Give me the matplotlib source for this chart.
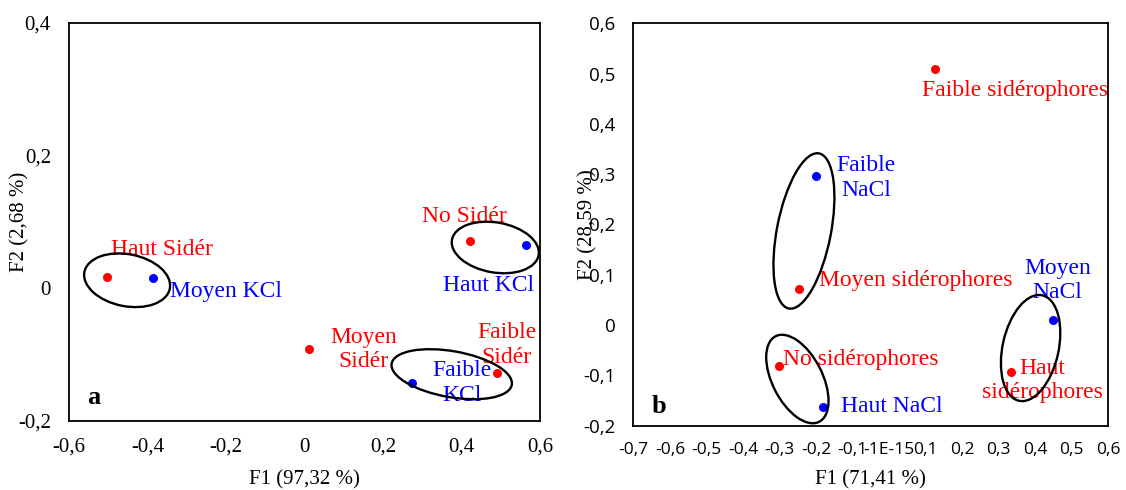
import matplotlib
matplotlib.use("Agg")
import matplotlib.pyplot as plt
from matplotlib.patches import Ellipse
from matplotlib.transforms import ScaledTranslation

# ---------------- data : panel a (KCl) ----------------
a_labels = ["Haut Sidér", "Moyen KCl", "No Sidér", "Haut KCl",
            "Moyen\nSidér", "Faible\nKCl", "Faible\nSidér"]
a_f1 = [-0.502, -0.385, 0.422, 0.564, 0.012, 0.273, 0.490]
a_f2 = [0.0165, 0.015, 0.0716, 0.065, -0.092, -0.143, -0.128]
a_group = ["sid", "salt", "sid", "salt", "sid", "salt", "sid"]
a_xticks = [-0.6, -0.4, -0.2, 0.0, 0.2, 0.4, 0.6]
a_xticklabels = ["-0,6", "-0,4", "-0,2", "0", "0,2", "0,4", "0,6"]
a_yticks = [-0.2, 0.0, 0.2, 0.4]
a_yticklabels = ["-0,2", "0", "0,2", "0,4"]
a_xlabel = "F1 (97,32 %)"
a_ylabel = "F2 (2,68 %)"

# ---------------- data : panel b (NaCl) ----------------
b_labels = ["Faible sidérophores", "Faible\nNaCl", "Moyen sidérophores",
            "Moyen\nNaCl", "No sidérophores", "Haut NaCl", "Haut\nsidérophores"]
b_f1 = [0.125, -0.199, -0.246, 0.450, -0.300, -0.180, 0.333]
b_f2 = [0.509, 0.296, 0.072, 0.009, -0.081, -0.163, -0.093]
b_group = ["sid", "salt", "sid", "salt", "sid", "salt", "sid"]
b_xticks = [-0.7, -0.6, -0.5, -0.4, -0.3, -0.2, -0.1, 0.0, 0.1, 0.2, 0.3, 0.4, 0.5, 0.6]
b_xticklabels = ["-0,7", "-0,6", "-0,5", "-0,4", "-0,3", "-0,2", "-0,1", "-1E-15",
                 "0,1", "0,2", "0,3", "0,4", "0,5", "0,6"]
b_yticks = [-0.2, -0.1, 0.0, 0.1, 0.2, 0.3, 0.4, 0.5, 0.6]
b_yticklabels = ["-0,2", "-0,1", "0", "0,1", "0,2", "0,3", "0,4", "0,5", "0,6"]
b_xlabel = "F1 (71,41 %)"
b_ylabel = "F2 (28,59 %)"

# ---------------- layout / style ----------------
COLORS = {"sid": "#FF0000", "salt": "#0000FF"}
SERIF = "Liberation Serif"
SANS = "Open Sans"
DPI = 100

# label offsets in pixels (dx right, dy down) and alignment
a_offsets = [(54, -28, "center"), (73, 13, "center"), (-6, -24, "center"), (-37, 40, "center"),
             (54, 0, "center"), (50, 0, "center"), (10, -28, "center")]
b_offsets = [(80, 21, "center"), (50, 2, "center"), (20, -8, "left"), (4, -40, "center"),
             (4, -6, "left"), (18, 0, "left"), (32, 9, "center")]

# grouping ellipses: centre (data), width/height in px, angle deg
a_ellipses = [(-0.452, 0.012, 87, 52, -11), (0.486, 0.0614, 88, 50, -10),
              (0.375, -0.1295, 122, 46, -10)]
b_ellipses = [(-0.233, 0.187, 158, 54, 79), (-0.251, -0.1075, 96, 50, 117),
              (0.388, -0.0459, 108, 56, 77.6)]

fig = plt.figure(figsize=(11.26, 4.90), dpi=DPI)
ax_a = fig.add_axes([0.0613, 0.1408, 0.4183, 0.8129])
ax_b = fig.add_axes([0.5626, 0.1316, 0.4214, 0.8208])


def draw_panel(ax, f1, f2, groups, labels, offsets, ellipses, xlim, ylim,
               xticks, xtl, yticks, ytl, tick_font, xtick_size, ytick_size,
               xlabel, ylabel, xlabel_pos, ylabel_pos, letter, letter_pos):
    ax.set_xlim(*xlim)
    ax.set_ylim(*ylim)
    for x, y, g in zip(f1, f2, groups):
        ax.scatter([x], [y], s=42, color=COLORS[g], zorder=3, linewidths=0)
    for x, y, g, lab, (dx, dy, ha) in zip(f1, f2, groups, labels, offsets):
        ax.annotate(lab, xy=(x, y), xytext=(dx, -dy), textcoords="offset pixels",
                    ha=ha, va="center", color=COLORS[g], fontsize=17,
                    family=SERIF, linespacing=1.22, multialignment="center", zorder=4)
    for cx, cy, w, h, ang in ellipses:
        tr = fig.dpi_scale_trans + ScaledTranslation(cx, cy, ax.transData)
        e = Ellipse((0, 0), w / DPI, h / DPI, angle=ang, transform=tr,
                    fill=False, edgecolor="black", linewidth=1.7, zorder=5,
                    clip_on=False)
        ax.add_patch(e)
    ax.set_xticks(xticks)
    ax.set_xticklabels(xtl, fontsize=xtick_size, family=tick_font)
    ax.set_yticks(yticks)
    ax.set_yticklabels(ytl, fontsize=ytick_size, family=tick_font)
    ax.tick_params(axis="both", length=0)
    ax.tick_params(axis="x", pad=12)
    ax.tick_params(axis="y", pad=13)
    for s in ax.spines.values():
        s.set_linewidth(1.3)
        s.set_color("black")
    ax.text(xlabel_pos[0], xlabel_pos[1], xlabel, transform=ax.transAxes,
            ha="center", va="center", fontsize=15, family=SERIF)
    ax.text(ylabel_pos[0], ylabel_pos[1], ylabel, transform=ax.transAxes,
            ha="center", va="center", fontsize=15, family=SERIF, rotation=90)
    ax.text(letter_pos[0], letter_pos[1], letter, transform=ax.transAxes,
            ha="center", va="center", fontsize=19, family=SERIF, fontweight="bold")


draw_panel(ax_a, a_f1, a_f2, a_group, a_labels, a_offsets, a_ellipses,
           (-0.6, 0.6), (-0.2, 0.4), a_xticks, a_xticklabels, a_yticks, a_yticklabels,
           SERIF, 15, 15, a_xlabel, a_ylabel, (0.5, -0.148), (-0.105, 0.5),
           "a", (0.053, 0.058))
draw_panel(ax_b, b_f1, b_f2, b_group, b_labels, b_offsets, b_ellipses,
           (-0.7, 0.6), (-0.2, 0.6), b_xticks, b_xticklabels, b_yticks, b_yticklabels,
           SANS, 12.5, 13.5, b_xlabel, b_ylabel, (0.5, -0.135), (-0.096, 0.5),
           "b", (0.054, 0.048))

fig.savefig("out.png", dpi=DPI)
